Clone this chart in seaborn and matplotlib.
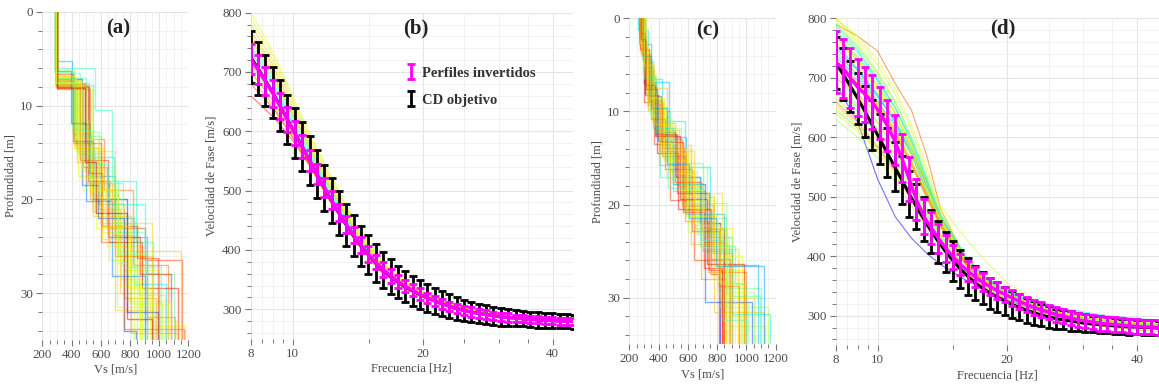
import numpy as np
import pandas as pd
import matplotlib
matplotlib.use("Agg")
import matplotlib.pyplot as plt
from matplotlib.ticker import FixedLocator, FixedFormatter, NullFormatter, MultipleLocator
import seaborn as sns

# ---------------------------------------------------------------- data
# Vs profiles, panel (a): layer velocities [m/s] and interface depths [m]
A_VS = [
    [295, 430, 560, 760, 1000], [300, 410, 540, 720, 950], [290, 450, 600, 850, 1100],
    [298, 480, 640, 900, 1160], [292, 420, 520, 700, 880], [300, 520, 690, 830, 1050],
    [296, 440, 580, 760, 980], [288, 400, 530, 700, 920], [301, 470, 610, 800, 1020],
    [294, 510, 660, 880, 1130], [297, 430, 700, 950, 1180], [290, 455, 560, 740, 870],
    [299, 490, 620, 820, 1060], [293, 415, 545, 780, 990], [300, 540, 720, 860, 1120],
    [291, 560, 680, 840, 960], [296, 435, 590, 730, 1000], [289, 420, 510, 690, 850],
    [302, 460, 650, 870, 1080], [295, 445, 570, 790, 940], [297, 500, 600, 720, 900],
    [293, 425, 550, 810, 1150], [299, 470, 580, 760, 840], [290, 405, 590, 710, 970],
    [300, 530, 700, 920, 1110], [294, 470, 640, 780, 1080], [298, 430, 520, 660, 830],
    [291, 410, 600, 760, 1170], [300, 550, 650, 900, 1000], [295, 460, 540, 700, 960],
    [297, 480, 720, 830, 1060], [290, 395, 500, 680, 900], [302, 520, 610, 850, 990],
    [293, 440, 580, 740, 880], [299, 500, 680, 810, 1130], [296, 450, 560, 720, 920],
    [292, 420, 610, 860, 1040], [301, 490, 570, 780, 950], [289, 415, 530, 750, 1010],
    [297, 465, 630, 800, 870],
]
A_DEPTH = [
    [7.5, 14.0, 21.0, 27.5], [7.2, 13.0, 19.5, 26.0], [7.8, 15.0, 22.5, 28.0],
    [8.0, 16.5, 23.0, 26.5], [6.8, 12.5, 18.5, 25.0], [7.6, 15.5, 22.0, 29.0],
    [7.0, 14.5, 20.5, 30.5], [5.2, 12.0, 17.5, 24.0], [8.1, 17.0, 23.5, 31.0],
    [7.9, 18.0, 24.5, 29.5], [7.3, 14.8, 22.5, 33.5], [6.5, 15.2, 21.5, 28.5],
    [7.7, 13.5, 19.0, 27.0], [7.4, 13.8, 20.0, 32.0], [8.0, 19.5, 25.5, 33.0],
    [6.0, 10.5, 18.0, 24.5], [7.1, 16.0, 21.0, 30.0], [6.2, 11.5, 16.5, 22.5],
    [7.9, 15.8, 24.0, 28.0], [7.5, 17.5, 23.0, 29.5], [7.0, 13.2, 18.0, 23.5],
    [7.6, 14.2, 21.8, 25.5], [7.2, 18.5, 22.0, 34.0], [6.9, 12.8, 19.2, 31.5],
    [8.2, 20.0, 26.0, 32.5], [7.4, 16.8, 25.0, 30.8], [7.0, 12.2, 18.8, 26.5],
    [6.6, 14.0, 24.5, 33.8], [7.8, 16.2, 20.5, 27.8], [7.3, 15.5, 21.2, 31.8],
    [7.9, 19.0, 26.8, 31.2], [6.3, 11.8, 20.2, 28.2], [8.0, 17.2, 22.8, 26.2],
    [7.2, 13.6, 19.8, 29.2], [7.7, 18.2, 23.8, 34.2], [7.5, 15.0, 20.8, 25.8],
    [6.8, 14.5, 24.2, 30.2], [8.1, 16.0, 21.5, 32.8], [6.4, 12.6, 18.2, 27.2],
    [7.6, 17.8, 22.8, 28.8],
]
A_MISFIT = [0.62, 0.70, 0.45, 0.85, 0.66, 0.35, 0.75, 0.30, 0.60, 0.90, 0.68, 0.50, 0.80,
            0.15, 0.64, 0.40, 0.72, 0.58, 0.88, 0.63, 0.42, 0.70, 0.20, 0.55, 0.78,
            0.66, 0.58, 0.82, 0.38, 0.70, 0.62, 0.25, 0.86, 0.60, 0.74, 0.52, 0.68,
            0.92, 0.46, 0.64]

# Vs profiles, panel (c)
C_VS = [
    [280, 320, 400, 560, 720, 850], [300, 360, 450, 620, 800, 980], [270, 300, 380, 520, 680, 820],
    [290, 340, 480, 700, 860, 1100], [260, 330, 420, 580, 750, 900], [310, 380, 500, 650, 900, 1060],
    [285, 310, 370, 480, 640, 840], [295, 350, 430, 600, 820, 1150], [275, 320, 460, 540, 700, 880],
    [305, 370, 410, 680, 920, 1000], [280, 300, 390, 530, 760, 810], [290, 330, 440, 610, 780, 970],
    [265, 345, 470, 590, 850, 1080], [300, 390, 520, 730, 880, 1130], [285, 325, 405, 560, 690, 860],
    [315, 365, 455, 640, 830, 940], [270, 310, 395, 500, 720, 1040], [295, 355, 490, 670, 800, 890],
    [280, 340, 425, 580, 740, 1000], [300, 315, 380, 550, 860, 960], [290, 360, 510, 620, 780, 1120],
    [275, 335, 415, 570, 710, 830], [305, 375, 465, 700, 900, 1090], [285, 320, 435, 595, 770, 870],
    [295, 345, 445, 630, 810, 950], [285, 330, 415, 600, 760, 940], [300, 350, 470, 660, 840, 1010],
    [270, 315, 385, 510, 690, 850], [290, 365, 495, 720, 900, 1160], [280, 325, 440, 590, 800, 920],
    [310, 355, 430, 620, 780, 880], [275, 305, 375, 545, 730, 980], [295, 340, 460, 650, 870, 1050],
    [285, 335, 420, 575, 755, 890], [305, 380, 500, 690, 840, 1000], [270, 320, 405, 555, 700, 860],
    [290, 345, 455, 610, 790, 1120], [280, 310, 390, 525, 745, 830], [300, 370, 480, 640, 820, 980],
    [288, 328, 412, 590, 770, 900],
]
C_DEPTH = [
    [3.0, 8.5, 13.0, 18.5, 24.0], [5.0, 9.5, 14.0, 20.0, 27.0], [2.0, 7.0, 12.5, 17.0, 22.0],
    [4.5, 10.0, 15.5, 21.5, 29.0], [1.3, 6.5, 11.0, 16.0, 23.5], [6.0, 11.5, 16.5, 22.5, 30.0],
    [2.5, 8.0, 13.5, 19.5, 26.0], [4.0, 9.0, 15.0, 23.0, 31.0], [3.5, 7.5, 12.0, 18.0, 25.0],
    [5.5, 10.5, 17.0, 24.5, 28.5], [1.8, 9.0, 14.5, 20.5, 27.5], [3.2, 8.8, 13.8, 19.0, 25.5],
    [2.8, 6.8, 12.8, 21.0, 26.5], [6.5, 12.0, 16.0, 23.5, 33.0], [4.2, 9.8, 15.8, 20.2, 28.0],
    [5.2, 10.2, 14.2, 18.8, 24.8], [2.2, 8.2, 13.2, 17.8, 30.5], [4.8, 11.0, 17.5, 22.0, 29.5],
    [3.8, 9.2, 14.8, 21.8, 27.2], [2.0, 7.8, 11.8, 19.8, 32.0], [5.8, 11.2, 16.8, 24.2, 31.5],
    [3.3, 8.3, 13.3, 20.8, 26.8], [6.2, 12.5, 18.2, 25.0, 29.8], [1.5, 9.5, 15.2, 19.5, 23.0],
    [4.4, 10.8, 16.2, 22.8, 28.8], [3.6, 9.0, 14.6, 20.4, 27.6], [5.4, 10.6, 16.4, 23.2, 30.6],
    [2.4, 7.4, 12.2, 17.6, 22.6], [4.6, 11.8, 18.6, 24.8, 31.8], [3.0, 8.6, 14.0, 21.2, 28.2],
    [5.6, 9.8, 13.6, 19.2, 24.2], [1.6, 7.2, 12.6, 19.4, 26.4], [4.2, 10.4, 17.2, 22.6, 29.4],
    [3.4, 8.9, 13.9, 20.6, 25.8], [6.4, 12.2, 17.8, 23.8, 32.4], [2.6, 8.4, 13.4, 18.4, 24.6],
    [4.0, 9.6, 15.6, 21.4, 26.6], [2.2, 7.6, 12.4, 18.8, 27.0], [5.0, 11.4, 16.6, 22.2, 28.4],
    [3.9, 9.3, 14.3, 20.0, 25.2],
]
C_MISFIT = [0.80, 0.62, 0.10, 0.45, 0.35, 0.66, 0.85, 0.58, 0.70, 0.40, 0.90, 0.64, 0.30,
            0.55, 0.75, 0.68, 0.20, 0.60, 0.78, 0.50, 0.72, 0.88, 0.42, 0.65, 0.82,
            0.66, 0.50, 0.84, 0.36, 0.62, 0.70, 0.90, 0.55, 0.78, 0.44, 0.60, 0.28,
            0.86, 0.68, 0.74]

Z_MAX = 35.0

# Dispersion curves: error-bar frequencies [Hz]
FREQ = [8.00, 8.32, 8.65, 9.00, 9.36, 9.73, 10.12, 10.53, 10.95, 11.39, 11.84, 12.31,
        12.81, 13.32, 13.85, 14.41, 14.98, 15.58, 16.21, 16.86, 17.53, 18.23, 18.96,
        19.72, 20.51, 21.33, 22.18, 23.07, 23.99, 24.95, 25.95, 26.99, 28.07, 29.19,
        30.36, 31.57, 32.84, 34.15, 35.51, 36.93, 38.41, 39.95, 41.55, 43.21, 44.94]

# target dispersion curve (CD objetivo) and its uncertainty
CD_VEL = [725, 706, 686, 665, 643, 620, 597, 574, 551, 528, 505, 483, 462, 442, 424,
          407, 392, 378, 366, 355, 346, 338, 331, 325, 319, 314, 309, 305, 301, 298,
          295, 293, 291, 289, 287, 286, 285, 284, 283, 282, 281, 281, 280, 280, 279]
CD_ERR = [44, 44, 43, 43, 43, 42, 42, 41, 41, 40, 39, 38, 37, 36, 35, 34, 33, 32, 31, 29,
          27, 26, 25, 24, 23, 22, 21, 20, 19, 18, 17, 16, 16, 15, 15, 14, 14, 13, 13, 13,
          13, 12, 12, 12, 12]

# mean and spread of the inverted profiles, panel (b)
B_VEL = [722, 704, 685, 664, 642, 620, 597, 574, 551, 528, 506, 484, 463, 443, 425,
         408, 393, 379, 367, 356, 347, 339, 332, 325, 319, 314, 309, 305, 301, 298,
         295, 293, 291, 289, 287, 286, 285, 284, 283, 282, 281, 281, 280, 280, 279]
B_ERR = [26, 25, 24, 23, 22, 21, 20, 19, 18, 17, 16, 15, 15, 14, 14, 13, 13, 12, 12, 11,
         11, 10, 10, 10, 9, 9, 9, 8, 8, 8, 8, 7, 7, 7, 7, 7, 6, 6, 6, 6, 6, 6, 6, 6, 6]

# mean and spread of the inverted profiles, panel (d)
D_VEL = [726, 716, 700, 684, 672, 659, 641, 620, 595, 565, 530, 495, 467, 448, 430,
         413, 399, 386, 375, 365, 356, 349, 342, 336, 330, 324, 319, 314, 310, 306,
         302, 299, 296, 293, 291, 289, 287, 286, 285, 284, 283, 282, 281, 281, 280]
D_ERR = [52, 50, 50, 48, 46, 45, 44, 43, 42, 40, 37, 34, 30, 27, 24, 22, 20, 18, 17, 16,
         15, 14, 14, 13, 13, 13, 13, 13, 13, 12, 12, 12, 12, 12, 12, 12, 12, 12, 12, 12,
         12, 12, 12, 12, 12]

# individual theoretical curves of the inverted models
NODE_F = [8, 9, 10, 11, 12, 13, 14, 16, 18, 20, 24, 28, 34, 45]
B_CURVES = [
    [800, 735, 660, 595, 540, 490, 445, 385, 352, 330, 306, 294, 286, 280],
    [770, 712, 640, 578, 524, 478, 436, 378, 347, 327, 305, 293, 286, 280],
    [745, 690, 622, 565, 512, 468, 428, 372, 343, 324, 303, 292, 285, 279],
    [735, 678, 612, 557, 505, 462, 424, 370, 341, 323, 302, 292, 285, 279],
    [715, 662, 600, 547, 496, 455, 417, 366, 339, 321, 302, 291, 284, 278],
    [705, 655, 596, 544, 494, 452, 414, 364, 338, 320, 301, 291, 284, 278],
    [660, 625, 585, 540, 492, 452, 415, 365, 339, 321, 302, 291, 285, 279],
    [725, 672, 608, 553, 501, 459, 421, 369, 341, 323, 303, 292, 285, 279],
    [760, 700, 628, 570, 516, 470, 430, 374, 344, 325, 304, 293, 286, 280],
    [690, 645, 590, 540, 490, 450, 413, 363, 337, 320, 301, 291, 284, 278],
    [780, 720, 648, 585, 530, 483, 440, 380, 348, 328, 306, 294, 287, 281],
    [710, 660, 602, 548, 498, 457, 419, 367, 340, 322, 302, 292, 285, 279],
    [790, 728, 654, 590, 535, 487, 442, 383, 350, 329, 306, 294, 287, 281],
    [750, 695, 626, 568, 514, 469, 429, 373, 343, 324, 303, 292, 285, 279],
    [700, 652, 596, 544, 495, 455, 418, 366, 339, 321, 302, 291, 284, 278],
    [740, 684, 617, 561, 508, 465, 426, 371, 342, 323, 303, 292, 285, 279],
    [765, 706, 634, 574, 520, 474, 433, 376, 345, 326, 304, 293, 286, 280],
    [720, 668, 605, 550, 500, 458, 420, 368, 340, 322, 302, 291, 284, 278],
    [680, 640, 590, 541, 492, 451, 414, 364, 338, 320, 301, 290, 283, 277],
    [755, 698, 630, 572, 518, 472, 431, 375, 344, 325, 304, 293, 286, 280],
]
B_MISFIT = [0.65, 0.70, 0.45, 0.35, 0.80, 0.60, 0.88, 0.50, 0.62, 0.75, 0.68, 0.42,
            0.60, 0.48, 0.78, 0.38, 0.66, 0.55, 0.84, 0.70]

D_CURVES = [
    [790, 770, 745, 690, 645, 570, 480, 395, 355, 335, 310, 298, 290, 284],
    [690, 625, 530, 466, 430, 405, 386, 360, 341, 326, 306, 295, 288, 282],
    [800, 760, 712, 660, 600, 530, 465, 395, 358, 336, 312, 299, 291, 285],
    [790, 748, 700, 650, 590, 520, 455, 388, 352, 332, 310, 298, 290, 284],
    [770, 735, 695, 650, 595, 530, 460, 395, 362, 342, 322, 310, 300, 292],
    [640, 610, 575, 535, 495, 455, 420, 370, 342, 325, 304, 293, 285, 277],
    [630, 600, 565, 525, 485, 445, 410, 363, 337, 321, 300, 289, 281, 272],
    [660, 625, 585, 545, 500, 458, 422, 372, 344, 327, 306, 295, 287, 280],
    [760, 712, 662, 610, 555, 500, 450, 388, 352, 332, 309, 297, 289, 282],
    [780, 735, 685, 630, 570, 510, 458, 392, 356, 335, 312, 300, 292, 285],
    [735, 700, 660, 620, 570, 510, 455, 390, 356, 338, 318, 306, 297, 290],
    [710, 670, 625, 580, 530, 480, 435, 378, 347, 329, 307, 296, 288, 281],
    [720, 690, 655, 610, 560, 505, 452, 385, 350, 331, 309, 297, 289, 282],
    [680, 645, 605, 563, 518, 472, 430, 375, 345, 328, 307, 296, 288, 280],
    [800, 770, 730, 680, 620, 550, 480, 400, 360, 338, 313, 300, 291, 284],
    [650, 615, 578, 540, 500, 460, 425, 375, 348, 332, 313, 302, 294, 287],
    [700, 665, 625, 580, 530, 480, 438, 382, 350, 331, 309, 297, 289, 282],
    [755, 715, 672, 625, 572, 515, 462, 395, 360, 340, 320, 308, 298, 291],
    [745, 705, 660, 612, 560, 505, 455, 390, 355, 334, 311, 298, 290, 283],
    [690, 655, 615, 572, 525, 478, 435, 380, 349, 330, 308, 296, 287, 279],
    [770, 728, 680, 628, 572, 515, 462, 395, 358, 337, 313, 300, 292, 285],
    [730, 695, 655, 605, 552, 498, 448, 386, 352, 333, 310, 297, 288, 280],
    [665, 632, 595, 555, 512, 468, 428, 376, 347, 330, 309, 297, 288, 279],
    [785, 745, 695, 640, 580, 518, 462, 392, 356, 335, 311, 299, 291, 284],
    [720, 690, 655, 615, 570, 525, 485, 430, 388, 355, 320, 302, 291, 283],
    [795, 755, 705, 650, 590, 525, 465, 395, 357, 336, 312, 299, 291, 284],
    [780, 742, 698, 648, 592, 528, 468, 398, 360, 339, 316, 304, 296, 289],
    [765, 728, 686, 640, 586, 524, 464, 394, 356, 335, 311, 298, 290, 283],
    [750, 712, 670, 625, 575, 520, 465, 398, 360, 338, 314, 300, 291, 284],
    [800, 765, 722, 672, 612, 542, 474, 400, 362, 340, 316, 303, 294, 287],
    [740, 705, 668, 628, 580, 525, 470, 400, 362, 340, 318, 305, 296, 289],
    [700, 672, 640, 600, 555, 505, 458, 392, 355, 334, 310, 297, 288, 280],
    [655, 620, 582, 542, 500, 458, 420, 368, 340, 323, 302, 290, 281, 273],
    [645, 615, 582, 546, 508, 468, 432, 380, 351, 334, 314, 303, 295, 288],
    [760, 722, 678, 630, 575, 515, 460, 392, 355, 334, 310, 297, 289, 282],
    [725, 690, 650, 605, 555, 502, 452, 388, 353, 333, 309, 296, 287, 279],
    [790, 752, 708, 658, 600, 534, 470, 396, 357, 335, 311, 298, 290, 283],
    [715, 682, 645, 602, 556, 508, 462, 396, 358, 337, 314, 301, 292, 285],
    [770, 732, 688, 640, 584, 522, 464, 394, 357, 336, 313, 300, 292, 286],
    [685, 650, 612, 570, 524, 476, 434, 378, 348, 330, 309, 297, 289, 281],
]
D_MISFIT = [0.82, 0.12, 0.62, 0.45, 0.35, 0.66, 0.55, 0.78, 0.48, 0.60, 0.30, 0.68, 0.72,
            0.40, 0.64, 0.58, 0.50, 0.33, 0.70, 0.56, 0.63, 0.76, 0.66, 0.44, 0.60,
            0.62, 0.40, 0.66, 0.30, 0.58, 0.36, 0.74, 0.70, 0.52, 0.64, 0.80, 0.46,
            0.60, 0.68, 0.56]

# ---------------------------------------------------------------- style
sns.set_theme(style="white")
plt.rcParams["font.family"] = ["Liberation Serif", "DejaVu Serif"]
TXT = "#4a4a4a"
plt.rcParams.update({
    "axes.labelcolor": TXT, "xtick.color": "#777777", "ytick.color": "#777777",
    "xtick.labelcolor": TXT, "ytick.labelcolor": TXT,
    "xtick.labelsize": 9.3, "ytick.labelsize": 9.3, "axes.labelsize": 9.0,
})
CMAP = plt.get_cmap("jet")
MAGENTA = "#ff00ff"

fig = plt.figure(figsize=(11.59, 3.88), dpi=100)
ax_a = fig.add_axes([0.0365, 0.1237, 0.1260, 0.8454])
ax_b = fig.add_axes([0.2163, 0.1266, 0.2781, 0.8407])
ax_c = fig.add_axes([0.5430, 0.1129, 0.1263, 0.8399])
ax_d = fig.add_axes([0.7211, 0.1098, 0.2789, 0.8430])


def style_axes(ax):
    for s in ax.spines.values():
        s.set_visible(False)
    ax.tick_params(which="major", length=4.5, width=0.8, direction="out",
                   left=True, bottom=True, pad=2)
    ax.tick_params(which="minor", length=3, width=0.7, direction="out",
                   left=True, bottom=True)
    ax.grid(which="major", color="#e4e4e4", lw=0.8)
    ax.grid(which="minor", color="#f0f0f0", lw=0.6)
    ax.set_axisbelow(True)


def profile_frame(vs_list, depth_list):
    rows = []
    for i, (vs, dep) in enumerate(zip(vs_list, depth_list)):
        tops = [0.0] + list(dep)
        bots = list(dep) + [Z_MAX]
        for v, t, b in zip(vs, tops, bots):
            rows.append((f"m{i:02d}", v, t))
            rows.append((f"m{i:02d}", v, b))
    return pd.DataFrame(rows, columns=["modelo", "vs", "prof"])


def curve_frame(curves):
    rows = []
    for i, c in enumerate(curves):
        for f, v in zip(NODE_F, c):
            rows.append((f"m{i:02d}", f, v))
    return pd.DataFrame(rows, columns=["modelo", "f", "v"])


def draw_profiles(ax, vs_list, depth_list, misfit):
    df = profile_frame(vs_list, depth_list)
    pal = {f"m{i:02d}": CMAP(m) for i, m in enumerate(misfit)}
    sns.lineplot(data=df, x="vs", y="prof", hue="modelo", palette=pal, estimator=None,
                 sort=False, legend=False, lw=1.0, alpha=0.5, ax=ax)
    style_axes(ax)
    ax.set_xlim(200, 1200)
    ax.set_ylim(Z_MAX, 0)
    ax.xaxis.set_major_locator(MultipleLocator(200))
    ax.xaxis.set_minor_locator(MultipleLocator(50))
    ax.yaxis.set_major_locator(MultipleLocator(10))
    ax.yaxis.set_minor_locator(MultipleLocator(2))
    ax.set_xlabel("Vs [m/s]", labelpad=2)
    ax.set_ylabel("Profundidad [m]", labelpad=3)


def draw_dispersion(ax, curves, misfit, mean_v, mean_e):
    df = curve_frame(curves)
    pal = {f"m{i:02d}": CMAP(m) for i, m in enumerate(misfit)}
    sns.lineplot(data=df, x="f", y="v", hue="modelo", palette=pal, estimator=None,
                 sort=False, legend=False, lw=0.8, alpha=0.55, ax=ax)
    eb_k = ax.errorbar(FREQ, CD_VEL, yerr=CD_ERR, fmt="none", ecolor="black",
                       elinewidth=2.0, capsize=2.6, capthick=2.0, zorder=4)
    ax.plot(FREQ, CD_VEL, color="black", lw=2.2, zorder=4)
    eb_m = ax.errorbar(FREQ, mean_v, yerr=mean_e, fmt="none", ecolor=MAGENTA,
                       elinewidth=2.0, capsize=2.6, capthick=2.0, zorder=5)
    ax.plot(FREQ, mean_v, color=MAGENTA, lw=2.4, zorder=5)
    style_axes(ax)
    ax.set_xscale("log")
    ax.set_ylim(250, 800)
    ax.xaxis.set_major_locator(FixedLocator([8, 10, 20, 40]))
    ax.xaxis.set_major_formatter(FixedFormatter(["8", "10", "20", "40"]))
    ax.xaxis.set_minor_locator(FixedLocator([8.5, 9, 9.5, 15, 25, 30, 35]))
    ax.xaxis.set_minor_formatter(NullFormatter())
    ax.yaxis.set_major_locator(MultipleLocator(100))
    ax.yaxis.set_minor_locator(MultipleLocator(20))
    ax.set_xlabel("Frecuencia [Hz]", labelpad=2)
    ax.set_ylabel("Velocidad de Fase [m/s]", labelpad=3)
    return eb_m, eb_k


draw_profiles(ax_a, A_VS, A_DEPTH, A_MISFIT)
draw_profiles(ax_c, C_VS, C_DEPTH, C_MISFIT)
eb_m, eb_k = draw_dispersion(ax_b, B_CURVES, B_MISFIT, B_VEL, B_ERR)
ax_b.set_xlim(8, 44.6)
draw_dispersion(ax_d, D_CURVES, D_MISFIT, D_VEL, D_ERR)
ax_d.set_xlim(8, 45.0)

leg = ax_b.legend([eb_m, eb_k], ["Perfiles invertidos", "CD objetivo"],
                  loc="upper left", bbox_to_anchor=(0.44, 0.875), frameon=False,
                  handlelength=0.7, handletextpad=0.4, labelspacing=0.95,
                  prop={"weight": "bold", "size": 10.5})
for t in leg.get_texts():
    t.set_color("#333333")

panel_font = {"fontsize": 15, "fontweight": "bold", "color": "#222222"}
ax_a.text(0.52, 0.95, "(a)", transform=ax_a.transAxes, ha="center", va="center", **panel_font)
ax_b.text(0.513, 0.953, "(b)", transform=ax_b.transAxes, ha="center", va="center", **panel_font)
ax_c.text(0.538, 0.964, "(c)", transform=ax_c.transAxes, ha="center", va="center", **panel_font)
ax_d.text(0.517, 0.970, "(d)", transform=ax_d.transAxes, ha="center", va="center", **panel_font)

fig.savefig("out.png", dpi=100)
